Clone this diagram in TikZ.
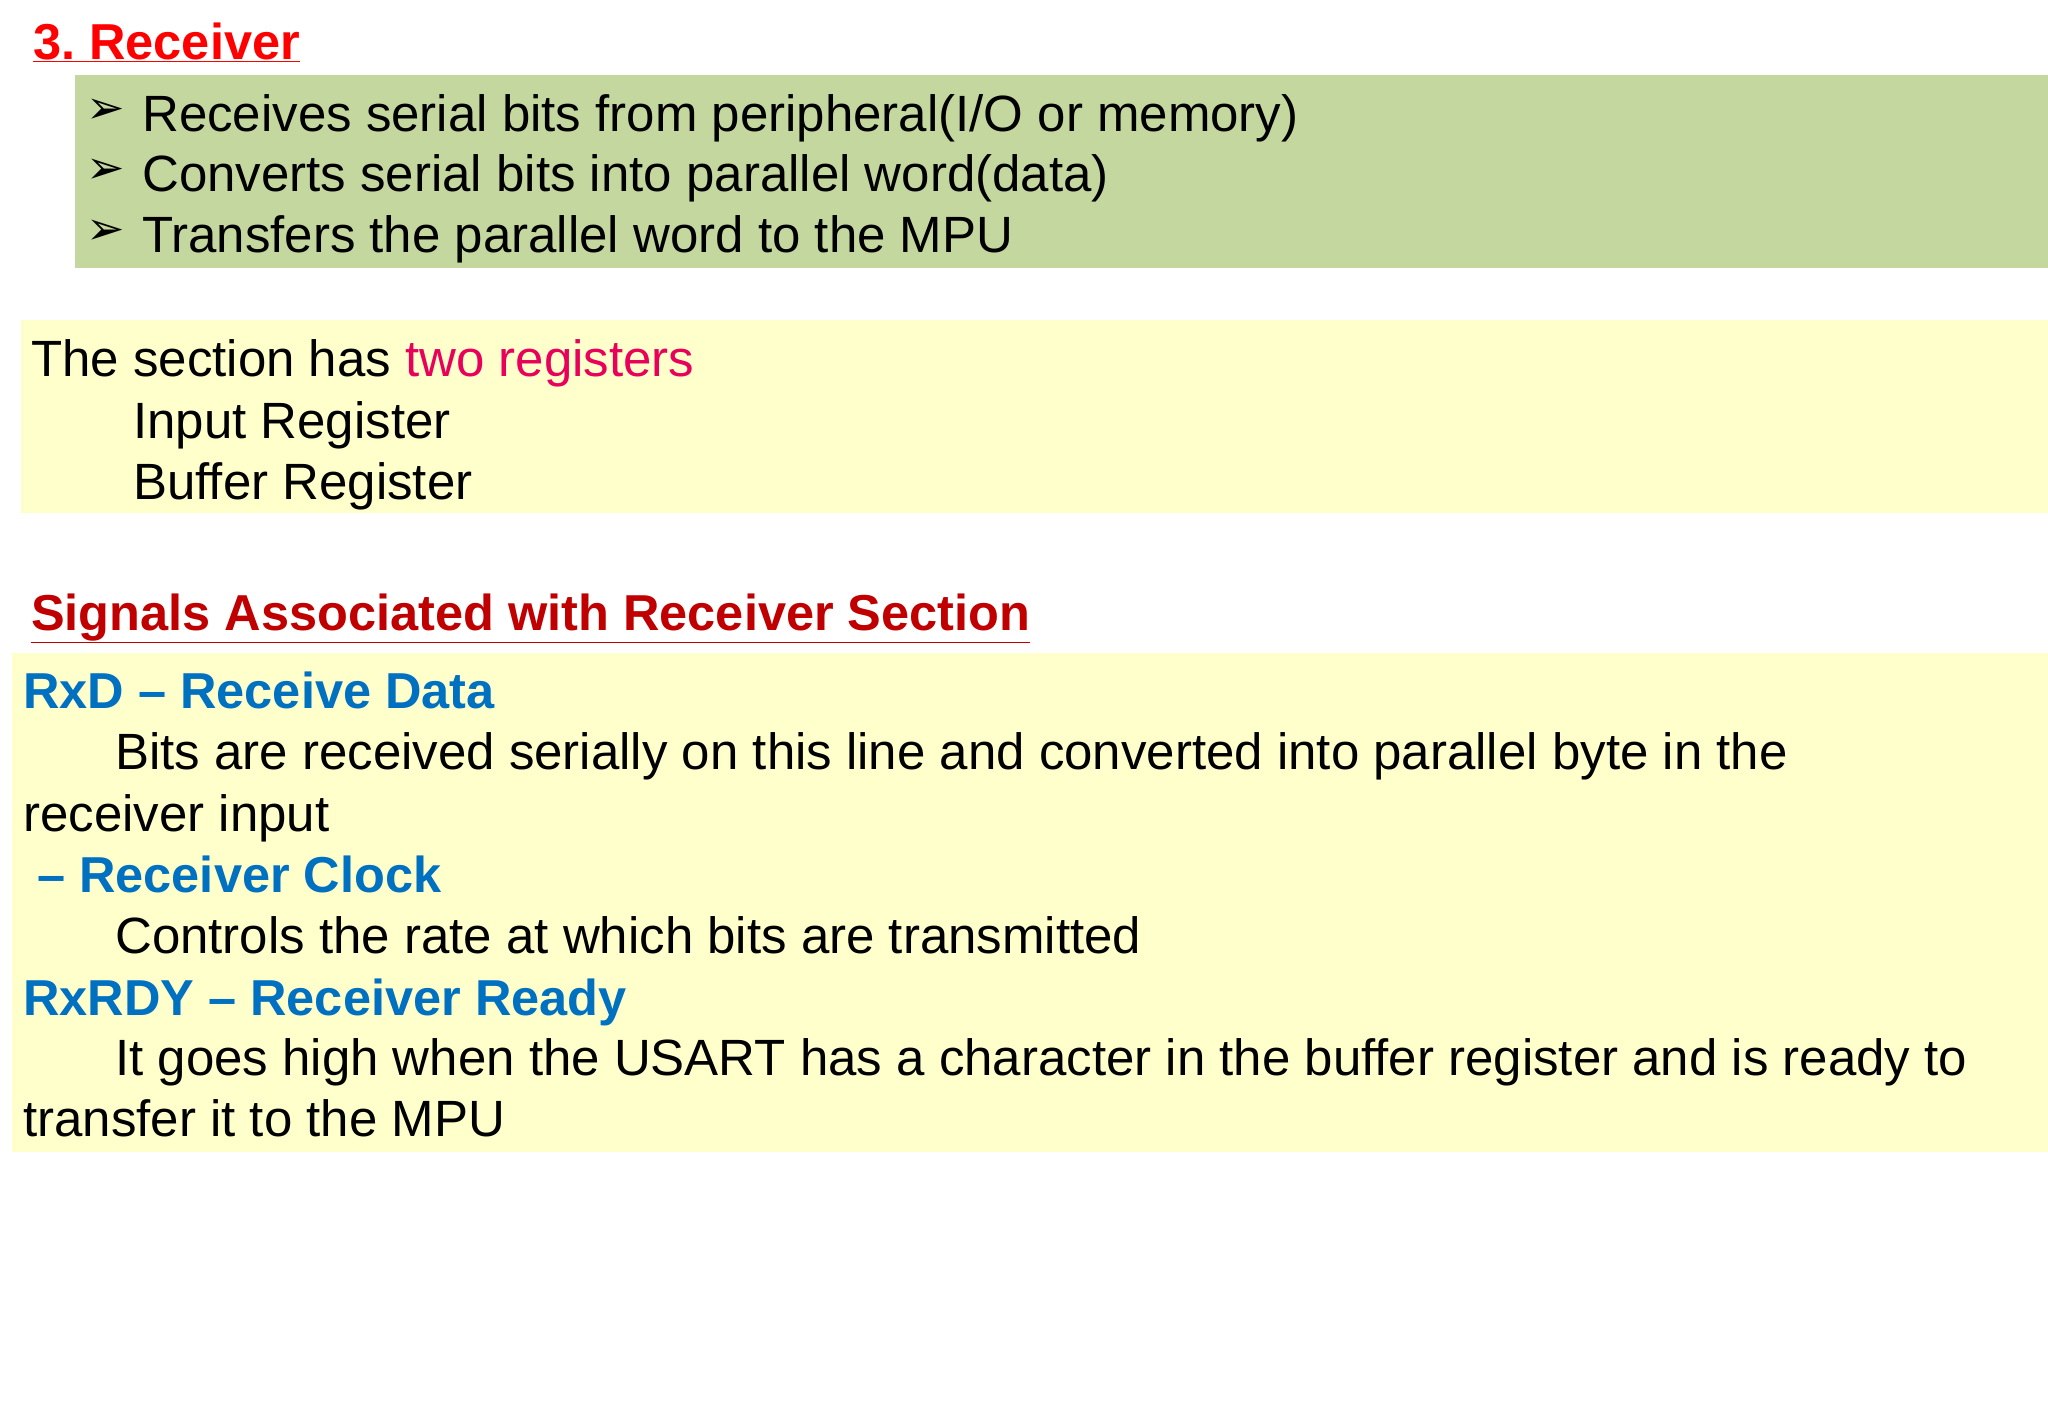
\documentclass[tikz,border=0pt]{standalone}
\usepackage{fontspec}
\setmainfont{Liberation Sans}
\newfontfamily\djv{DejaVu Sans}
\definecolor{grn}{HTML}{C4D79F}
\definecolor{ylw}{HTML}{FFFFCC}
\definecolor{ttl}{HTML}{FF0000}
\definecolor{dred}{HTML}{C00000}
\definecolor{blu}{HTML}{0070C0}
\definecolor{pnk}{HTML}{E8005A}
\begin{document}
\begin{tikzpicture}[x=1pt,y=-1pt,
  txt/.style={anchor=base west,inner sep=0pt,font=\fontsize{51}{55}\selectfont},
  hd/.style={txt,font=\fontsize{50.5}{55}\selectfont\bfseries},
  arr/.style={anchor=base west,inner sep=0pt,font=\djv\fontsize{46}{50}\selectfont}]
\useasboundingbox (0,0) rectangle (2048,1414);
\fill[white] (0,0) rectangle (2048,1414);
\fill[grn] (75,75) rectangle (2048,268);
\fill[ylw] (21,320) rectangle (2048,513);
\fill[ylw] (12,653) rectangle (2048,1152);
\node[hd,text=ttl] (t1) at (33,59) {\underline{3.\ Receiver}};
\node[arr] (b1a) at (86,123) {➢};
\node[txt] (b1) at (142,131) {Receives serial bits from peripheral(I/O or memory)};
\node[arr] (b2a) at (86,183) {➢};
\node[txt] (b2) at (142,191) {Converts serial bits into parallel word(data)};
\node[arr] (b3a) at (86,244) {➢};
\node[txt] (b3) at (142,252) {Transfers the parallel word to the MPU};
\node[txt] (s1) at (31,376) {The section has \textcolor{pnk}{two registers}};
\node[txt] (s2) at (133,438) {Input Register};
\node[txt] (s3) at (133,499) {Buffer Register};
\node[hd,text=dred] (t2) at (31,630) {\underline{Signals Associated with Receiver Section}};
\node[hd,text=blu] (r1) at (23,708) {RxD – Receive Data};
\node[txt] (r2) at (115,769) {Bits are received serially on this line and converted into parallel byte in the};
\node[txt] (r3) at (23,831) {receiver input};
\node[hd,text=blu] (r4) at (37,892) {– Receiver Clock};
\node[txt] (r5) at (115,953) {Controls the rate at which bits are transmitted};
\node[hd,text=blu] (r6) at (23,1015) {RxRDY – Receiver Ready};
\node[txt] (r7) at (115,1075) {It goes high when the USART has a character in the buffer register and is ready to};
\node[txt] (r8) at (23,1136) {transfer it to the MPU};
\end{tikzpicture}
\end{document}
